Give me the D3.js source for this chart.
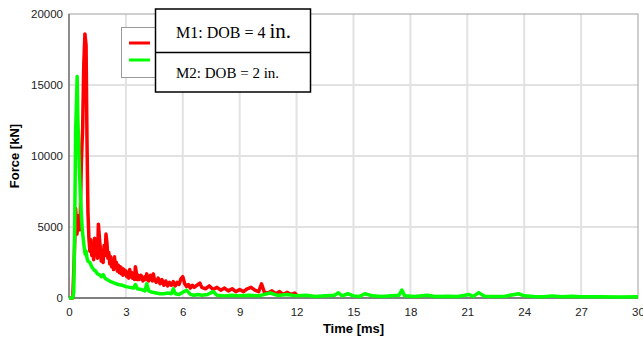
<!DOCTYPE html>
<html>
<head>
<meta charset="utf-8">
<script src="https://cdn.jsdelivr.net/npm/d3@7"></script>
<style>
  body { margin: 0; background: #fff; }
  svg { display: block; }
</style>
</head>
<body>
<svg id="chart" width="643" height="337"></svg>
<script>
// time [ms] and force [kN]
const redTime = [0, 0.2, 0.28, 0.35, 0.42, 0.5, 0.58, 0.65, 0.72, 0.78, 0.84, 0.9, 0.95, 1.0, 1.05, 1.1, 1.15, 1.2, 1.25, 1.3,
  1.35, 1.4, 1.45, 1.5, 1.55, 1.6, 1.65, 1.7, 1.75, 1.8, 1.85, 1.9, 1.95, 2.0, 2.05, 2.1, 2.15, 2.2, 2.25, 2.3,
  2.35, 2.4, 2.45, 2.5, 2.55, 2.6, 2.65, 2.7, 2.75, 2.8, 2.85, 2.9, 2.95, 3.0, 3.05, 3.1, 3.15, 3.2, 3.25, 3.3,
  3.35, 3.4, 3.45, 3.5, 3.55, 3.6, 3.65, 3.7, 3.8, 3.9, 4.0, 4.05, 4.1, 4.2, 4.3, 4.4, 4.45, 4.5, 4.6, 4.7,
  4.8, 4.9, 5.0, 5.1, 5.2, 5.3, 5.4, 5.5, 5.6, 5.7, 5.8, 5.9, 6.0, 6.1, 6.2, 6.3, 6.4, 6.5, 6.6, 6.8,
  6.9, 7.0, 7.2, 7.4, 7.6, 7.8, 8.0, 8.2, 8.4, 8.6, 8.8, 9.0, 9.2, 9.4, 9.6, 9.8, 10.0, 10.15, 10.3, 10.5,
  10.7, 10.9, 11.1, 11.3, 11.5, 11.7, 11.9, 12.0];
const redForce = [0, 0, 3000, 6300, 4500, 5800, 4800, 9500, 12000, 16500, 18600, 17800, 11000, 6000, 4200, 3300, 4100, 3000, 3600, 2700,
  4200, 3200, 4000, 2800, 5200, 4300, 3500, 2600, 3300, 2500, 3700, 3000, 4500, 3900, 2800, 3200, 2400, 2900, 2200, 2600,
  2000, 2900, 2200, 2500, 1900, 2300, 1800, 2200, 1700, 2100, 1600, 2000, 1700, 1900, 1500, 1800, 1400, 2000, 1500, 1800,
  1400, 1700, 1300, 2200, 1800, 1300, 1600, 1300, 1600, 1200, 1500, 1300, 1700, 1200, 1600, 1200, 1700, 1300, 1100, 1400,
  1000, 1300, 900, 1200, 850, 1100, 900, 1150, 850, 1100, 950, 1350, 1500, 1000, 800, 950, 700, 900, 750, 950,
  1050, 750, 650, 850, 600, 750, 550, 700, 500, 650, 450, 600, 450, 650, 750, 550, 450, 1000, 400, 350,
  500, 300, 450, 250, 400, 250, 350, 200];

const greenTime = [0, 0.2, 0.25, 0.3, 0.35, 0.4, 0.43, 0.47, 0.5, 0.55, 0.6, 0.65, 0.7, 0.75, 0.8, 0.85, 0.9, 0.95, 1.0, 1.1,
  1.2, 1.3, 1.4, 1.5, 1.6, 1.7, 1.8, 1.9, 2.0, 2.2, 2.4, 2.6, 2.8, 3.0, 3.2, 3.4, 3.5, 3.6, 3.8, 4.0,
  4.1, 4.2, 4.4, 4.6, 4.8, 5.0, 5.2, 5.4, 5.5, 5.6, 5.8, 6.0, 6.2, 6.4, 6.6, 6.8, 7.0, 7.3, 7.6, 7.8,
  8.2, 8.6, 9.0, 9.5, 10.0, 10.6, 11.0, 11.5, 12.0, 12.5, 13.0, 13.5, 14.0, 14.2, 14.4, 14.7, 15.0, 15.3, 15.6, 16.0,
  16.5, 17.0, 17.4, 17.55, 17.7, 18.2, 18.9, 19.3, 20.0, 20.5, 21.1, 21.3, 21.6, 21.9, 22.5, 23.0, 23.7, 24.0, 24.5, 25.0,
  25.5, 26.0, 26.5, 27.0, 28.0, 29.0, 30.0];
const greenForce = [0, 0, 400, 5000, 11800, 14000, 15600, 12500, 11200, 9000, 7300, 5900, 4800, 4200, 3600, 3100, 3300, 2800, 2600, 2500,
  2200, 2000, 1900, 1700, 1650, 1500, 1650, 1400, 1300, 1150, 1050, 950, 900, 800, 750, 700, 950, 650, 600, 500,
  1000, 500, 400, 350, 300, 300, 350, 300, 650, 300, 250, 400, 550, 250, 200, 250, 200, 250, 450, 200,
  150, 200, 150, 200, 150, 350, 180, 250, 150, 200, 100, 150, 200, 370, 150, 300, 150, 100, 300, 150,
  100, 150, 200, 560, 150, 100, 200, 100, 120, 100, 250, 100, 380, 120, 100, 130, 300, 150, 100, 80,
  150, 80, 120, 80, 90, 70, 80];

const xTicks = [0, 3, 6, 9, 12, 15, 18, 21, 24, 27, 30];
const yTicks = [0, 5000, 10000, 15000, 20000];
const seriesNames = ["M1: DOB = 4 ", "M2: DOB = 2 in."];
const seriesColors = ["#ff0000", "#00ff00"];

const svg = d3.select("#chart");
const plotL = 69, plotR = 638, plotT = 14, plotB = 298;

const x = d3.scaleLinear().domain([0, 30]).range([plotL, plotR]);
const y = d3.scaleLinear().domain([0, 20000]).range([plotB, plotT]);

// grid
svg.append("g").selectAll("line").data(xTicks.slice(1, -1)).join("line")
  .attr("x1", d => x(d)).attr("x2", d => x(d)).attr("y1", plotT).attr("y2", plotB)
  .attr("stroke", "#e2e2e2").attr("stroke-width", 2);
svg.append("g").selectAll("line").data(yTicks.slice(1, -1)).join("line")
  .attr("x1", plotL).attr("x2", plotR).attr("y1", d => y(d)).attr("y2", d => y(d))
  .attr("stroke", "#e2e2e2").attr("stroke-width", 2);

// frame
svg.append("rect").attr("x", plotL).attr("y", plotT).attr("width", plotR - plotL).attr("height", plotB - plotT)
  .attr("fill", "none").attr("stroke", "#a0a0a0").attr("stroke-width", 1);
svg.append("line").attr("x1", plotL).attr("x2", plotL).attr("y1", plotT).attr("y2", plotB)
  .attr("stroke", "#777").attr("stroke-width", 1.5);
svg.append("line").attr("x1", plotL).attr("x2", plotR).attr("y1", plotB).attr("y2", plotB)
  .attr("stroke", "#666").attr("stroke-width", 1.5);

// axes (labels only)
const xAxis = d3.axisBottom(x).tickValues(xTicks).tickSize(0).tickPadding(10).tickFormat(d3.format("d"));
const yAxis = d3.axisLeft(y).tickValues(yTicks).tickSize(0).tickPadding(6).tickFormat(d3.format("d"));
const gx = svg.append("g").attr("transform", `translate(0,${plotB})`).call(xAxis);
const gy = svg.append("g").attr("transform", `translate(${plotL},0)`).call(yAxis);
[gx, gy].forEach(g => {
  g.select(".domain").remove();
  g.selectAll("text")
    .style("font-family", "Liberation Sans, Arial, sans-serif")
    .style("font-size", "11.5px")
    .style("fill", "#222");
});

svg.append("text").attr("x", (plotL + plotR) / 2).attr("y", 333).attr("text-anchor", "middle")
  .style("font-family", "Liberation Sans, Arial, sans-serif").style("font-size", "13px").style("font-weight", "bold")
  .text("Time [ms]");
svg.append("text").attr("transform", `translate(19,${(plotT + plotB) / 2}) rotate(-90)`).attr("text-anchor", "middle")
  .style("font-family", "Liberation Sans, Arial, sans-serif").style("font-size", "13px").style("font-weight", "bold")
  .text("Force [kN]");

// series
const line = d3.line().x(d => x(d[0])).y(d => y(d[1]));
const redData = d3.zip(redTime, redForce);
const greenData = d3.zip(greenTime, greenForce);
svg.append("path").datum(redData).attr("d", line)
  .attr("fill", "none").attr("stroke", seriesColors[0]).attr("stroke-width", 3.5).attr("stroke-linejoin", "round");
svg.append("path").datum(greenData).attr("d", line)
  .attr("fill", "none").attr("stroke", seriesColors[1]).attr("stroke-width", 3.5).attr("stroke-linejoin", "round");

// legend: chart's own box, then the pasted label box on top
svg.append("rect").attr("x", 121.5).attr("y", 27.5).attr("width", 80).attr("height", 50)
  .attr("fill", "#fff").attr("stroke", "#999");
[43, 60].forEach((ly, i) => {
  svg.append("line").attr("x1", 129).attr("x2", 150).attr("y1", ly).attr("y2", ly)
    .attr("stroke", seriesColors[i]).attr("stroke-width", 3);
});
svg.append("rect").attr("x", 155.5).attr("y", 9).attr("width", 155).attr("height", 83)
  .attr("fill", "#fff").attr("stroke", "#000").attr("stroke-width", 1.5);
svg.append("line").attr("x1", 155.5).attr("x2", 310.5).attr("y1", 52.5).attr("y2", 52.5)
  .attr("stroke", "#000").attr("stroke-width", 1.5);

const t1 = svg.append("text").attr("x", 176).attr("y", 38)
  .style("font-family", "Liberation Serif, Times New Roman, serif").style("font-size", "16px").style("fill", "#000");
t1.append("tspan").text(seriesNames[0]);
t1.append("tspan").style("font-size", "21px").text("in.");
svg.append("text").attr("x", 176).attr("y", 78)
  .style("font-family", "Liberation Serif, Times New Roman, serif").style("font-size", "15px").style("fill", "#000")
  .text(seriesNames[1]);
</script>
</body>
</html>
